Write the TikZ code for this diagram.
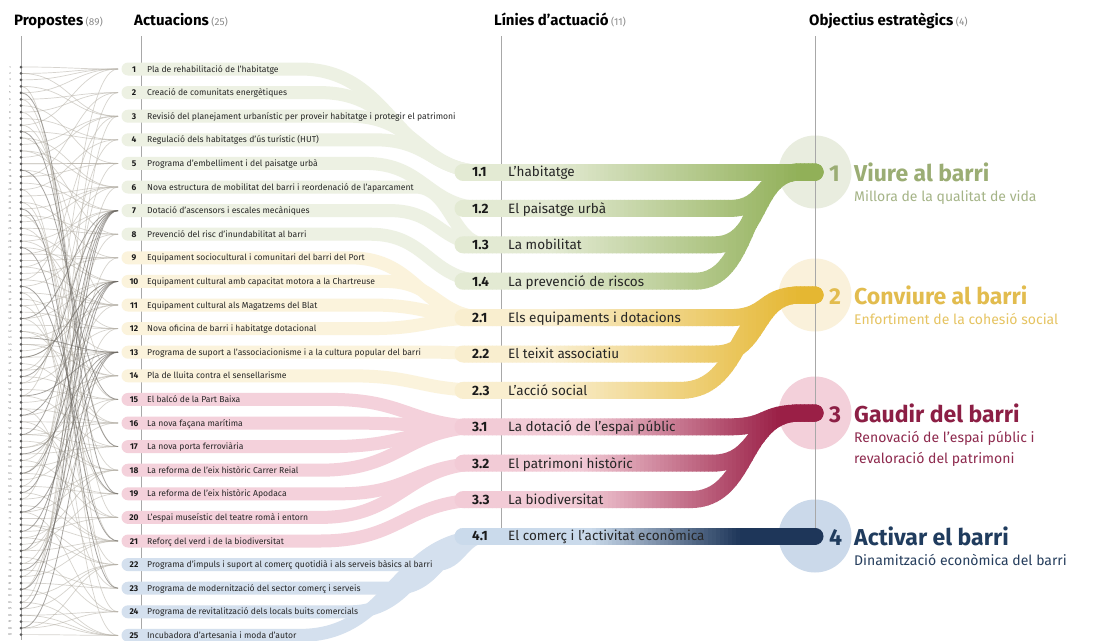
\documentclass[tikz,border=0pt]{standalone}
\usepackage{fontspec}
\setmainfont{Fira Sans}
\usetikzlibrary{calc}
\definecolor{actG}{HTML}{EDF1E3}
\definecolor{actY}{HTML}{FBF3DC}
\definecolor{actP}{HTML}{F4D1DB}
\definecolor{actB}{HTML}{D4E0EE}
\definecolor{gL}{HTML}{E3EAD3}
\definecolor{gD}{HTML}{91B058}
\definecolor{yL}{HTML}{F9EECF}
\definecolor{yD}{HTML}{E5B732}
\definecolor{pL}{HTML}{F2CBD6}
\definecolor{pD}{HTML}{9A1F46}
\definecolor{bL}{HTML}{CADAEB}
\definecolor{bD}{HTML}{1E3659}
\definecolor{cG}{HTML}{E9EDDF}
\definecolor{cY}{HTML}{FAF1DB}
\definecolor{cP}{HTML}{F3D0DA}
\definecolor{cB}{HTML}{CBD9EA}
\definecolor{tG}{HTML}{9BAD74}
\definecolor{sG}{HTML}{A5B487}
\definecolor{tY}{HTML}{E2BC4E}
\definecolor{sY}{HTML}{E6C462}
\definecolor{tP}{HTML}{8C1F45}
\definecolor{sP}{HTML}{8E2A4E}
\definecolor{tB}{HTML}{203C5E}
\definecolor{sB}{HTML}{263E5D}
\definecolor{lineGray}{HTML}{A8A8A8}
\definecolor{linkL}{HTML}{B5B0A6}
\definecolor{linkD}{HTML}{6F6B65}
\definecolor{dotGray}{HTML}{5A5A5A}
\definecolor{pnumGray}{HTML}{777777}
\definecolor{txtDark}{HTML}{262626}
\definecolor{numDark}{HTML}{1A1A1A}
\definecolor{cntGray}{HTML}{8A8A8A}
\newcommand\mycount[1]{{\fontsize{10}{11}\selectfont\mdseries\color{cntGray}#1}}
\newcommand\greenbands{%
  \draw[lband] (l11) -- (o1.center);
  \draw[lband] (l12) -- (730,208.4) .. controls (768.5,208.4) and (761.5,172) .. (800,172) -- (o1.center);
  \draw[lband] (l13) -- (715,244.8) .. controls (761.75,244.8) and (753.25,172) .. (800,172) -- (o1.center);
  \draw[lband] (l14) -- (695,281.2) .. controls (752.75,281.2) and (742.25,172) .. (800,172) -- (o1.center);}
\newcommand\yellowbands{%
  \draw[lband] (l21) -- (730,317.6) .. controls (768.5,317.6) and (761.5,295) .. (800,295) -- (o2.center);
  \draw[lband] (l22) -- (715,354) .. controls (761.75,354) and (753.25,295) .. (800,295) -- (o2.center);
  \draw[lband] (l23) -- (680,390.4) .. controls (746,390.4) and (734,295) .. (800,295) -- (o2.center);}
\newcommand\pinkbands{%
  \draw[lband] (l31) -- (730,426.8) .. controls (768.5,426.8) and (761.5,413) .. (800,413) -- (o3.center);
  \draw[lband] (l32) -- (712,463.2) .. controls (760.4,463.2) and (751.6,413) .. (800,413) -- (o3.center);
  \draw[lband] (l33) -- (690,499.6) .. controls (750.5,499.6) and (739.5,413) .. (800,413) -- (o3.center);}
\newcommand\bluebands{%
  \draw[lband] (l41) -- (o4.center);}
\begin{document}
\begin{tikzpicture}[x=1pt,y=-1pt,
  hdr/.style={font=\fontsize{15}{17}\selectfont\bfseries, text=black, inner sep=0pt, anchor=base west},
  vline/.style={draw=lineGray, line width=0.6pt},
  link/.style={draw=linkL, line width=0.7pt, opacity=0.55},
  dlink/.style={draw=linkD, line width=0.8pt, opacity=0.6},
  aband/.style={line width=13pt, line cap=round},
  lband/.style={line width=17pt, line cap=round},
  anum/.style={font=\fontsize{8.4}{9}\selectfont\bfseries, text=numDark, inner sep=0pt, anchor=base},
  atext/.style={font=\fontsize{8.6}{10}\selectfont, text=txtDark, inner sep=0pt, anchor=base west},
  lnum/.style={font=\fontsize{13.5}{15}\selectfont\bfseries, text=numDark, inner sep=0pt, anchor=base west},
  ltext/.style={font=\fontsize{13.5}{15}\selectfont, text=txtDark, inner sep=0pt, anchor=base west},
  otitle/.style={font=\fontsize{23}{26}\selectfont\bfseries, inner sep=0pt, anchor=base west},
  osub/.style={font=\fontsize{14}{17}\selectfont, inner sep=0pt, anchor=base west},
  ocirc/.style={circle, minimum size=73pt, inner sep=0pt, draw=none},
  pnum/.style={font=\fontsize{3}{3}\selectfont, text=pnumGray, inner sep=0pt}
]
\useasboundingbox (0,0) rectangle (1108,640);
\fill[white] (0,0) rectangle (1108,640);

% ---------- coordinates ----------
\foreach \i in {1,...,25}{
  \pgfmathsetmacro\ya{69+(\i-1)*23.6}
  \coordinate (a\i) at (128,\ya);
  \coordinate (ain\i) at (118,\ya);
}
\foreach \p in {1,...,89}{
  \pgfmathsetmacro\yp{67+(\p-1)*6.45}
  \coordinate (p\p) at (21,\yp);
}
\coordinate (l11) at (463,172);
\coordinate (l12) at (463,208.4);
\coordinate (l13) at (463,244.8);
\coordinate (l14) at (463,281.2);
\coordinate (l21) at (463,317.6);
\coordinate (l22) at (463,354);
\coordinate (l23) at (463,390.4);
\coordinate (l31) at (463,426.8);
\coordinate (l32) at (463,463.2);
\coordinate (l33) at (463,499.6);
\coordinate (l41) at (463,536);

% ---------- objective circles ----------
\node[ocirc, fill=cG] (o1) at (815,172) {};
\node[ocirc, fill=cY] (o2) at (815,295) {};
\node[ocirc, fill=cP] (o3) at (815,413) {};
\node[ocirc, fill=cB] (o4) at (815,536) {};

% ---------- column lines ----------
\draw[vline] (21,36) -- (21,640);
\draw[vline] (141,36) -- (141,640);
\draw[vline] (501,36) -- (501,536);
\draw[vline] (815,36) -- (815,536);

% ---------- proposal links ----------
\foreach \p in {1,...,89}{
  \pgfmathtruncatemacro\ta{min(25,max(1,round((\p-1)*24/88)+1+mod(\p*7,5)-2))}
  \draw[link] (p\p) .. controls ($(p\p)+(48,0)$) and ($(ain\ta)+(-45,0)$) .. (ain\ta);
}
\foreach \p in {2,4,...,88}{
  \pgfmathtruncatemacro\ta{mod(\p*11+3,25)+1}
  \draw[link] (p\p) .. controls ($(p\p)+(48,0)$) and ($(ain\ta)+(-45,0)$) .. (ain\ta);
}
\foreach \p in {40,43,...,88}{
  \pgfmathtruncatemacro\ta{mod(\p*5,9)+5}
  \draw[dlink] (p\p) .. controls ($(p\p)+(48,0)$) and ($(ain\ta)+(-45,0)$) .. (ain\ta);
}
\foreach \p in {5,11,...,35}{
  \pgfmathtruncatemacro\ta{mod(\p*3,10)+14}
  \draw[dlink] (p\p) .. controls ($(p\p)+(48,0)$) and ($(ain\ta)+(-45,0)$) .. (ain\ta);
}

% ---------- action bands ----------
\foreach \i/\xs/\tg/\yl/\cc in {1/300/11/172/actG, 2/320/11/172/actG, 3/350/11/172/actG, 4/375/11/172/actG,
  5/365/12/208.4/actG, 6/415/13/244.8/actG, 7/390/13/244.8/actG, 8/370/14/281.2/actG,
  9/350/21/317.6/actY, 10/385/21/317.6/actY, 11/370/21/317.6/actY, 12/370/21/317.6/actY,
  13/440/22/354/actY, 14/350/23/390.4/actY,
  15/330/31/426.8/actP, 16/340/31/426.8/actP, 17/330/31/426.8/actP, 18/320/31/426.8/actP,
  19/340/32/463.2/actP, 20/320/32/463.2/actP, 21/320/33/499.6/actP,
  22/435/41/536/actB, 23/395/41/536/actB, 24/350/41/536/actB, 25/300/41/536/actB}{
  \pgfmathsetmacro\ya{69+(\i-1)*23.6}
  \pgfmathsetmacro\xm{(\xs+488)/2}
  \draw[aband, draw=\cc] (a\i) -- (\xs,\ya) .. controls (\xm,\ya) and (\xm,\yl) .. ($(l\tg)+(25,0)$);
}

% ---------- line bands with gradient ----------
\foreach \k in {0,...,96}{
  \pgfmathsetmacro\xa{452+\k*4}
  \pgfmathsetmacro\xb{\xa+4.6}
  \pgfmathtruncatemacro\pg{max(0,min(100,(\xa+2-550)/2.5))}
  \pgfmathtruncatemacro\pp{max(0,min(100,(\xa+2-580)/2.0))}
  \pgfmathtruncatemacro\pb{max(0,min(100,(\xa+2-590)/1.5))}
  \colorlet{cgr}{gD!\pg!gL}
  \colorlet{cye}{yD!\pg!yL}
  \colorlet{cpi}{pD!\pp!pL}
  \colorlet{cbl}{bD!\pb!bL}
  \begin{scope}
    \clip (\xa,0) rectangle (\xb,640);
    \begin{scope}[color=cgr]\greenbands\end{scope}
    \begin{scope}[color=cye]\yellowbands\end{scope}
    \begin{scope}[color=cpi]\pinkbands\end{scope}
    \begin{scope}[color=cbl]\bluebands\end{scope}
  \end{scope}
}

% ---------- proposal dots ----------
\foreach \p in {1,...,89}{
  \fill[dotGray] (p\p) circle (1.5);
  \node[pnum] (pn\p) at ($(p\p)+(-11,0)$) {\p};
}

% ---------- action labels ----------
\foreach \i/\txt in {1/Pla de rehabilitació de l'habitatge,
  2/Creació de comunitats energètiques,
  3/Revisió del planejament urbanístic per proveir habitatge i protegir el patrimoni,
  4/Regulació dels habitatges d'ús turístic (HUT),
  5/Programa d'embelliment i del paisatge urbà,
  6/Nova estructura de mobilitat del barri i reordenació de l'aparcament,
  7/Dotació d'ascensors i escales mecàniques,
  8/Prevenció del risc d'inundabilitat al barri,
  9/Equipament sociocultural i comunitari del barri del Port,
  10/Equipament cultural amb capacitat motora a la Chartreuse,
  11/Equipament cultural als Magatzems del Blat,
  12/Nova oficina de barri i habitatge dotacional,
  13/Programa de suport a l'associacionisme i a la cultura popular del barri,
  14/Pla de lluita contra el sensellarisme,
  15/El balcó de la Part Baixa,
  16/La nova façana marítima,
  17/La nova porta ferroviària,
  18/La reforma de l'eix històric Carrer Reial,
  19/La reforma de l'eix històric Apodaca,
  20/L'espai museístic del teatre romà i entorn,
  21/Reforç del verd i de la biodiversitat,
  22/Programa d'impuls i suport al comerç quotidià i als serveis bàsics al barri,
  23/Programa de modernització del sector comerç i serveis,
  24/Programa de revitalització dels locals buits comercials,
  25/Incubadora d'artesania i moda d'autor}{
  \pgfmathsetmacro\yb{69+(\i-1)*23.6+3}
  \node[anum] (an\i) at (134,\yb) {\i};
  \node[atext] (at\i) at (147,\yb) {\txt};
}

% ---------- line labels ----------
\foreach \nm/\num/\yl/\txt in {l11/1.1/172/L'habitatge, l12/1.2/208.4/El paisatge urbà,
  l13/1.3/244.8/La mobilitat, l14/1.4/281.2/La prevenció de riscos,
  l21/2.1/317.6/Els equipaments i dotacions, l22/2.2/354/El teixit associatiu,
  l23/2.3/390.4/L'acció social, l31/3.1/426.8/La dotació de l'espai públic,
  l32/3.2/463.2/El patrimoni històric, l33/3.3/499.6/La biodiversitat,
  l41/4.1/536/El comerç i l'activitat econòmica}{
  \pgfmathsetmacro\yb{\yl+4.8}
  \node[lnum] (n\nm) at (472,\yb) {\num};
  \node[ltext] (t\nm) at (508,\yb) {\txt};
}

% ---------- objective labels ----------
\node[otitle, text=tG] (on1) at (829,181) {1};
\node[otitle, text=tG] (ot1) at (854,181) {Viure al barri};
\node[osub, text=sG] (os1) at (854,201) {Millora de la qualitat de vida};
\node[otitle, text=tY] (on2) at (829,304) {2};
\node[otitle, text=tY] (ot2) at (854,304) {Conviure al barri};
\node[osub, text=sY] (os2) at (854,324) {Enfortiment de la cohesió social};
\node[otitle, text=tP] (on3) at (829,422) {3};
\node[otitle, text=tP] (ot3) at (854,422) {Gaudir del barri};
\node[osub, text=sP] (os3a) at (854,442) {Renovació de l'espai públic i};
\node[osub, text=sP] (os3b) at (854,463) {revaloració del patrimoni};
\node[otitle, text=tB] (on4) at (829,545) {4};
\node[otitle, text=tB] (ot4) at (854,545) {Activar el barri};
\node[osub, text=sB] (os4) at (854,565) {Dinamització econòmica del barri};

% ---------- headers ----------
\node[hdr] (h1) at (14,25) {Propostes\,\mycount{(89)}};
\node[hdr] (h2) at (134,25) {Actuacions\,\mycount{(25)}};
\node[hdr] (h3) at (494,25) {Línies d'actuació\,\mycount{(11)}};
\node[hdr] (h4) at (809,25) {Objectius estratègics\,\mycount{(4)}};
\end{tikzpicture}
\end{document}
